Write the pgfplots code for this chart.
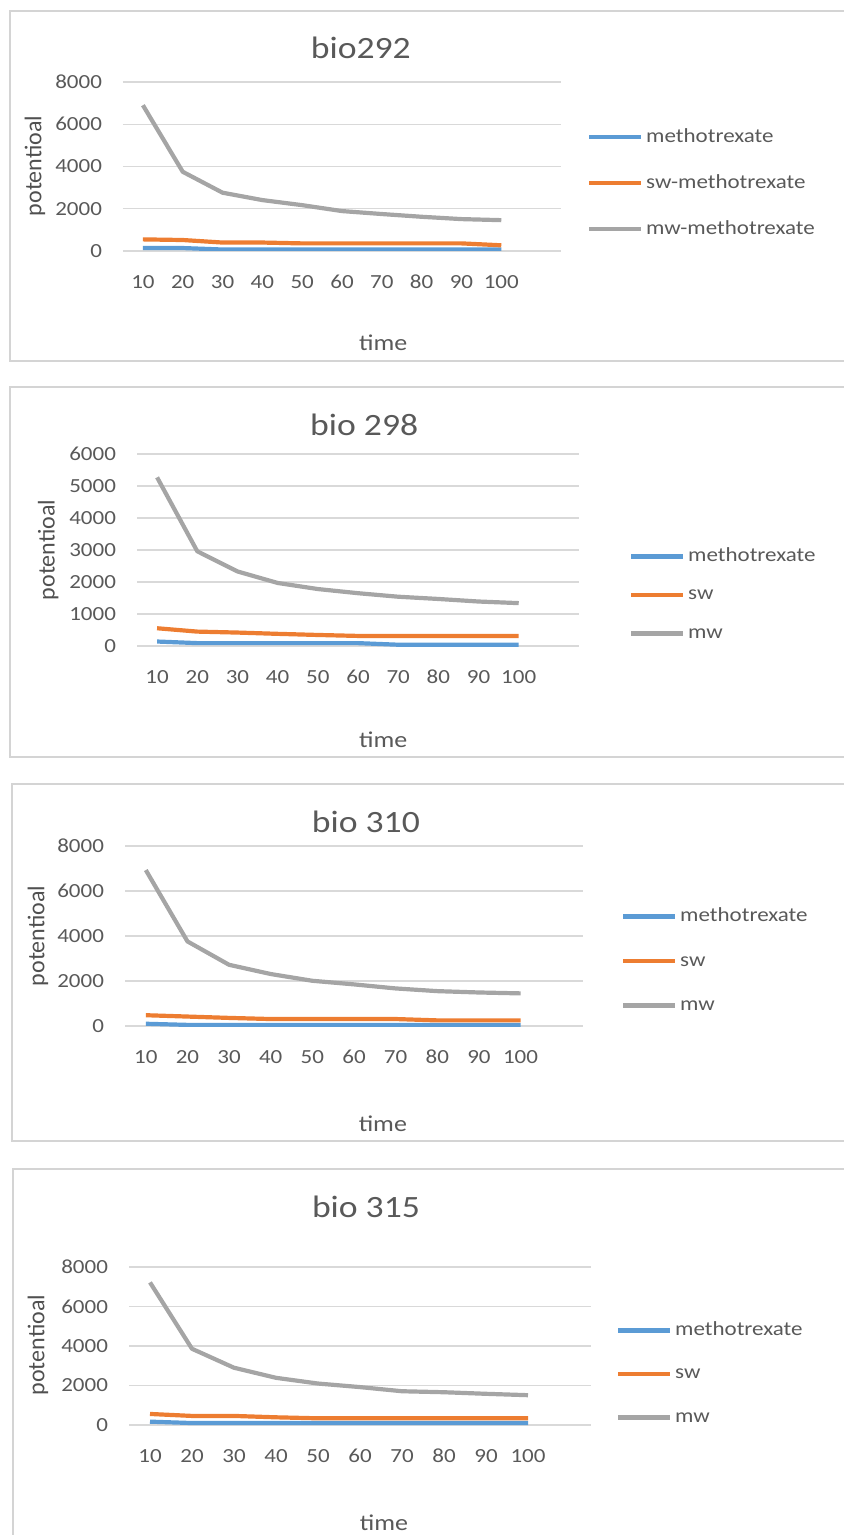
\documentclass[border=0pt]{standalone}
\usepackage{pgfplots}
\pgfplotsset{compat=1.18}
\usepackage{fontspec}
\setmainfont{Carlito}[FakeStretch=1.15]
\newfontfamily\ylfont{Carlito}
\definecolor{txt}{HTML}{595959}
\definecolor{grd}{HTML}{D9D9D9}
\definecolor{bx}{HTML}{D4D4D4}
\definecolor{cb}{HTML}{5B9BD5}
\definecolor{co}{HTML}{ED7D31}
\definecolor{cg}{HTML}{A5A5A5}
\pgfplotsset{
  legend image code/.code={\draw[#1,line width=2.1pt] (0pt,0pt) -- (26pt,0pt);},
  every axis title shift=0pt,
  exc/.style={
    scale only axis, anchor=south west,
    xmin=5, xmax=115, ymin=0,
    xtick={10,20,...,100},
    axis line style={draw=none},
    tick style={draw=none},
    major tick length=0pt,
    ymajorgrids, grid style={grd, line width=0.75pt},
    /pgf/number format/assume math mode=true,
    /pgf/number format/1000 sep={},
    scaled ticks=false,
    tick label style={font=\fontsize{10}{12}\selectfont, text=txt},
    xticklabel style={anchor=center, yshift=-15.5pt},
    yticklabel style={anchor=east, xshift=-7pt},
    title style={anchor=center, font=\fontsize{15.5}{18}\selectfont, text=txt},
    xlabel style={anchor=center, font=\fontsize{11.3}{13}\selectfont, text=txt},
    ylabel style={anchor=center, font=\ylfont\fontsize{12}{14}\selectfont, text=txt!90!black},
    xlabel=time, ylabel=potentioal,
    legend cell align=left,
    legend style={anchor=west, draw=none, fill=none, inner sep=0pt, outer sep=0pt,
      nodes={text height=7pt, text depth=2pt, inner ysep=0pt, inner xsep=1.5pt, text=txt, font=\fontsize{10}{12}\selectfont}},
    every axis plot/.append style={line width=2.1pt, line join=round, mark=none},
  }
}
\begin{document}
\begin{tikzpicture}
\useasboundingbox (0,0) rectangle (422pt,-767.5pt);
\begin{scope}
\clip (0,0) rectangle (422pt,-767.5pt);
\draw[bx, line width=1pt] (5pt,-5.5pt) rectangle (430pt,-180.5pt);
\draw[bx, line width=1pt] (5pt,-193.5pt) rectangle (430pt,-378.5pt);
\draw[bx, line width=1pt] (6pt,-392pt) rectangle (430pt,-570.5pt);
\draw[bx, line width=1pt] (6.5pt,-584.5pt) rectangle (430pt,-790pt);
\end{scope}

% Chart 1
\begin{axis}[exc, at={(61.5pt,-125.5pt)}, width=219pt, height=84.5pt,
  ymax=8000, ytick={0,2000,...,8000},
  title={bio292}, title style={at={(axis description cs:0.543,1.201)}},
  xlabel style={at={(axis description cs:0.594,-0.544)}},
  ylabel style={at={(axis description cs:-0.201,0.503)}},
  legend style={at={(axis description cs:1.0594,0.402)}, row sep=14pt}]
\addplot[cb] coordinates {(10,140)(20,140)(30,70)(40,70)(50,70)(60,70)(70,70)(80,70)(90,70)(100,70)};
\addplot[co] coordinates {(10,550)(20,520)(30,400)(40,400)(50,360)(60,360)(70,360)(80,360)(90,360)(100,270)};
\addplot[cg] coordinates {(10,6900)(20,3750)(30,2760)(40,2410)(50,2170)(60,1890)(70,1750)(80,1620)(90,1510)(100,1460)};
\legend{methotrexate,sw-methotrexate,mw-methotrexate}
\end{axis}

% Chart 2
\begin{axis}[exc, at={(68.5pt,-323pt)}, width=221pt, height=96pt,
  ymax=6000, ytick={0,1000,...,6000},
  title={bio 298}, title style={at={(axis description cs:0.514,1.151)}},
  xlabel style={at={(axis description cs:0.557,-0.487)}},
  ylabel style={at={(axis description cs:-0.201,0.5)}},
  legend style={at={(axis description cs:1.113,0.266)}, row sep=10.25pt}]
\addplot[cb] coordinates {(10,140)(20,90)(30,90)(40,90)(50,90)(60,90)(70,40)(80,40)(90,40)(100,40)};
\addplot[co] coordinates {(10,555)(20,450)(30,420)(40,380)(50,345)(60,315)(70,315)(80,315)(90,315)(100,315)};
\addplot[cg] coordinates {(10,5270)(20,2960)(30,2330)(40,1970)(50,1780)(60,1650)(70,1540)(80,1470)(90,1390)(100,1340)};
\legend{methotrexate,sw,mw}
\end{axis}

% Chart 3
\begin{axis}[exc, at={(62.5pt,-513pt)}, width=229pt, height=90pt,
  ymax=8000, ytick={0,2000,...,8000},
  title={bio 310}, title style={at={(axis description cs:0.526,1.133)}},
  xlabel style={at={(axis description cs:0.563,-0.544)}},
  ylabel style={at={(axis description cs:-0.190,0.5)}},
  legend style={at={(axis description cs:1.083,0.361)}, row sep=13.25pt}]
\addplot[cb] coordinates {(10,100)(20,50)(30,50)(40,50)(50,50)(60,50)(70,50)(80,50)(90,50)(100,50)};
\addplot[co] coordinates {(10,480)(20,420)(30,360)(40,310)(50,310)(60,310)(70,310)(80,250)(90,250)(100,250)};
\addplot[cg] coordinates {(10,6930)(20,3760)(30,2720)(40,2310)(50,2010)(60,1850)(70,1670)(80,1550)(90,1490)(100,1450)};
\legend{methotrexate,sw,mw}
\end{axis}

% Chart 4
\begin{axis}[exc, at={(64.5pt,-712.5pt)}, width=231pt, height=79pt,
  ymax=8000, ytick={0,2000,...,8000},
  title={bio 315}, title style={at={(axis description cs:0.513,1.380)}},
  xlabel style={at={(axis description cs:0.552,-0.620)}},
  ylabel style={at={(axis description cs:-0.197,0.506)}},
  legend style={at={(axis description cs:1.054,0.323)}, row sep=12.75pt}]
\addplot[cb] coordinates {(10,170)(20,100)(30,100)(40,100)(50,100)(60,100)(70,100)(80,100)(90,100)(100,100)};
\addplot[co] coordinates {(10,560)(20,460)(30,460)(40,390)(50,340)(60,340)(70,340)(80,340)(90,340)(100,340)};
\addplot[cg] coordinates {(10,7220)(20,3860)(30,2900)(40,2390)(50,2100)(60,1920)(70,1710)(80,1660)(90,1580)(100,1510)};
\legend{methotrexate,sw,mw}
\end{axis}
\end{tikzpicture}
\end{document}
